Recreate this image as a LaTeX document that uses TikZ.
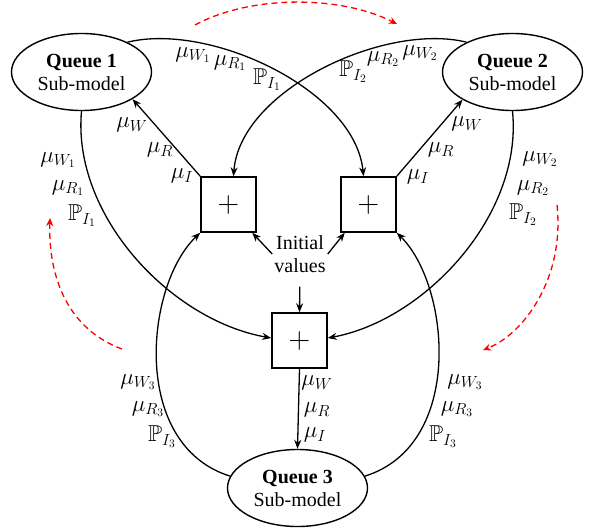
\RequirePackage{fix-cm}
\documentclass[tikz,border=0pt]{standalone}
\usepackage{amssymb}
\usepackage{fontspec}
\setmainfont{Liberation Serif}
\usetikzlibrary{arrows.meta,shapes.geometric}

\begin{document}
\begin{tikzpicture}[x=1pt,y=-1pt,
  every node/.style={font=\fontsize{20}{23}\selectfont},
  queue/.style={draw, ellipse, line width=1.4pt, minimum width=140pt,
    minimum height=77pt, inner sep=0pt, align=center},
  sumbox/.style={draw, line width=1.5pt, minimum size=55pt, inner sep=0pt,
    font=\fontsize{30}{30}\selectfont},
  flow/.style={line width=1.3pt, -{Stealth[length=9pt,width=7pt]}},
  hint/.style={red, line width=1.3pt, dash pattern=on 6pt off 4pt,
    -{Stealth[length=8pt,width=7pt]}},
  lbl/.style={inner sep=0pt, font=\fontsize{23}{26}\selectfont}
]
\useasboundingbox (0,0) rectangle (590,531);

% sub-models
\node[queue] (q1) at (81.5,72) {\textbf{Queue 1}\\Sub-model};
\node[queue] (q2) at (512.5,72) {\textbf{Queue 2}\\Sub-model};
\node[queue] (q3) at (297.5,488) {\textbf{Queue 3}\\Sub-model};

% summation blocks
\node[sumbox] (b1) at (228.5,204.5) {$+$};
\node[sumbox] (b2) at (368.5,204.5) {$+$};
\node[sumbox] (b3) at (299.5,340.5) {$+$};

\node[align=center, inner sep=2pt] (iv) at (300,254) {Initial\\values};

% initial values into the blocks
\draw[flow] (iv.west) -- (b1.-50);
\draw[flow] (iv.east) -- (b2.-130);
\draw[flow, shorten <=12pt] (iv.south) -- (b3.north);

% block outputs to the sub-models
\draw[flow] (b1.north west) -- (q1.-28);
\draw[flow] (b2.north east) -- (q2.-151);
\draw[flow] (b3.south) -- (q3.north);

% exchanges between sub-models
\draw[flow] (q1.33) .. controls (210,22) and (355,90) .. (b2.100);
\draw[flow] (q2.147) .. controls (385,22) and (240,90) .. (b1.80);
\draw[flow] (q1.south) .. controls (72,215) and (170,320) .. (b3.175);
\draw[flow] (q2.south) .. controls (523,215) and (425,320) .. (b3.5);
\draw[flow] (q3.170) .. controls (130,445) and (145,285) .. (b1.south west);
\draw[flow] (q3.10) .. controls (465,445) and (450,285) .. (b2.south east);

% labels on the output arrows
\node[lbl] (o1w) at (132,125) {$\mu_W$};
\node[lbl] (o1r) at (160,150) {$\mu_R$};
\node[lbl] (o1i) at (182,176) {$\mu_I$};
\node[lbl] (o2w) at (467,124) {$\mu_W$};
\node[lbl] (o2r) at (441,150) {$\mu_R$};
\node[lbl] (o2i) at (418,177) {$\mu_I$};
\node[lbl] (o3w) at (317,383) {$\mu_W$};
\node[lbl] (o3r) at (317,410) {$\mu_R$};
\node[lbl] (o3i) at (315,435) {$\mu_I$};

% labels on the exchange curves
\node[lbl] (t1w) at (193,55) {$\mu_{W_1}$};
\node[lbl] (t1r) at (230,63) {$\mu_{R_1}$};
\node[lbl] (t1i) at (267,80) {$\mathbb{P}_{I_1}$};
\node[lbl] (t2i) at (353,72) {$\mathbb{P}_{I_2}$};
\node[lbl] (t2r) at (383,59) {$\mu_{R_2}$};
\node[lbl] (t2w) at (420,53) {$\mu_{W_2}$};
\node[lbl] (s1w) at (58,160) {$\mu_{W_1}$};
\node[lbl] (s1r) at (68,188) {$\mu_{R_1}$};
\node[lbl] (s1i) at (82,216) {$\mathbb{P}_{I_1}$};
\node[lbl] (s2w) at (540,159) {$\mu_{W_2}$};
\node[lbl] (s2r) at (533,188) {$\mu_{R_2}$};
\node[lbl] (s2i) at (523,215) {$\mathbb{P}_{I_2}$};
\node[lbl] (u1w) at (138,382) {$\mu_{W_3}$};
\node[lbl] (u1r) at (148,409) {$\mu_{R_3}$};
\node[lbl] (u1i) at (162,437) {$\mathbb{P}_{I_3}$};
\node[lbl] (u2w) at (465,382) {$\mu_{W_3}$};
\node[lbl] (u2r) at (457,409) {$\mu_{R_3}$};
\node[lbl] (u2i) at (443,437) {$\mathbb{P}_{I_3}$};

% circulation hints
\coordinate (h1a) at (195,25);
\coordinate (h1b) at (397,24);
\coordinate (h2a) at (557,205);
\coordinate (h2b) at (483,350);
\coordinate (h3a) at (122,349);
\coordinate (h3b) at (50,218);
\draw[hint] (h1a) .. controls (250,-5) and (340,-5) .. (h1b);
\draw[hint] (h2a) .. controls (565,280) and (522,335) .. (h2b);
\draw[hint] (h3a) .. controls (70,330) and (48,280) .. (h3b);
\end{tikzpicture}
\end{document}
